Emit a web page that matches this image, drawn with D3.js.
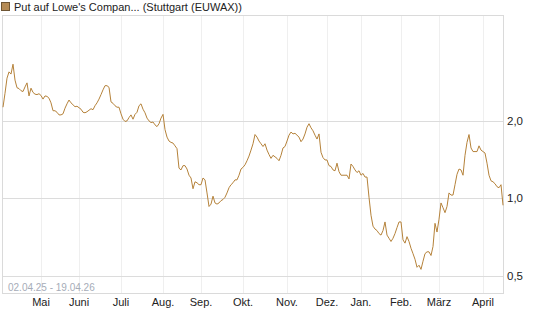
<!DOCTYPE html>
<html>
<head>
<meta charset="utf-8">
<script src="https://cdn.jsdelivr.net/npm/d3@7"></script>
<style>
  body { margin: 0; background: #fff; }
  svg { display: block; font-family: "Liberation Sans", Arial, sans-serif; }
</style>
</head>
<body>
<div id="chart"></div>
<script>
// chart title and date range
var title = "Put auf Lowe's Compan... (Stuttgart (EUWAX))";
var dateRange = "02.04.25 - 19.04.26";

// daily closing prices, one per trading day
var prices = [
  2.26, 2.56, 2.93, 3.10, 3.04, 3.32, 2.88, 2.69, 2.67, 2.62,
  2.60, 2.71, 2.81, 2.50, 2.68, 2.58, 2.54, 2.53, 2.55, 2.51,
  2.43, 2.50, 2.49, 2.45, 2.35, 2.19, 2.19, 2.16, 2.11, 2.11,
  2.13, 2.24, 2.33, 2.41, 2.35, 2.31, 2.27, 2.28, 2.25, 2.22,
  2.16, 2.15, 2.17, 2.20, 2.23, 2.21, 2.29, 2.35, 2.43, 2.53,
  2.64, 2.74, 2.74, 2.70, 2.37, 2.34, 2.29, 2.26, 2.26, 2.13,
  2.03, 1.99, 2.00, 2.06, 2.11, 2.03, 2.12, 2.16, 2.29, 2.33,
  2.22, 2.15, 2.05, 2.00, 1.97, 1.98, 1.93, 1.90, 1.95, 2.05,
  2.12, 1.85, 1.73, 1.67, 1.65, 1.64, 1.60, 1.56, 1.31, 1.29,
  1.34, 1.34, 1.30, 1.23, 1.20, 1.09, 1.16, 1.15, 1.13, 1.13,
  1.20, 1.18, 1.05, 0.93, 0.95, 1.02, 0.96, 0.95, 0.96, 0.98,
  0.99, 1.01, 1.05, 1.10, 1.13, 1.15, 1.18, 1.18, 1.23, 1.30,
  1.32, 1.35, 1.40, 1.46, 1.54, 1.63, 1.77, 1.73, 1.67, 1.63,
  1.59, 1.63, 1.54, 1.48, 1.43, 1.47, 1.45, 1.43, 1.40, 1.47,
  1.57, 1.59, 1.67, 1.76, 1.81, 1.78, 1.79, 1.76, 1.73, 1.66,
  1.70, 1.78, 1.89, 1.95, 1.88, 1.83, 1.76, 1.70, 1.78, 1.51,
  1.44, 1.41, 1.41, 1.34, 1.33, 1.29, 1.28, 1.37, 1.27, 1.23,
  1.23, 1.23, 1.23, 1.19, 1.36, 1.33, 1.29, 1.26, 1.28, 1.23,
  1.25, 1.21, 1.21, 1.01, 0.86, 0.78, 0.76, 0.75, 0.73, 0.72,
  0.75, 0.81, 0.72, 0.70, 0.68, 0.70, 0.73, 0.77, 0.81, 0.81,
  0.69, 0.67, 0.71, 0.68, 0.64, 0.61, 0.58, 0.54, 0.55, 0.53,
  0.57, 0.61, 0.62, 0.62, 0.60, 0.65, 0.80, 0.74, 0.83, 0.96,
  0.92, 0.88, 0.93, 1.05, 1.03, 1.03, 1.13, 1.24, 1.30, 1.29,
  1.23, 1.47, 1.65, 1.77, 1.57, 1.52, 1.52, 1.52, 1.60, 1.54,
  1.52, 1.50, 1.37, 1.23, 1.17, 1.16, 1.14, 1.11, 1.10, 1.13,
  0.94
];

// first trading day of each month (index into prices)
var monthStarts = [19, 38, 59, 80, 99, 120, 142, 162, 179, 199, 218, 240];
var monthLabels = ["Mai", "Juni", "Juli", "Aug.", "Sep.", "Okt.", "Nov.", "Dez.", "Jan.", "Feb.", "März", "April"];

// y axis ticks
var yTicks = [0.5, 1.0, 2.0];
var yDomain = [0.429, 5.11];

// set the dimensions and margins of the graph
var margin = {top: 16, right: 42, bottom: 34, left: 3},
    width = 545 - margin.left - margin.right,
    height = 327 - margin.top - margin.bottom;

var lineColor = "#b5823a";

// set the ranges
var x = d3.scaleLinear().domain([0, prices.length - 1]).range([0, width]);
var y = d3.scaleLog().domain(yDomain).range([height, 0]);

var root = d3.select("#chart").append("svg")
    .attr("width", 545)
    .attr("height", 327);

// legend box and title
root.append("rect")
    .attr("x", 1.5)
    .attr("y", 2.5)
    .attr("width", 8)
    .attr("height", 8)
    .attr("fill", "#b58b55")
    .attr("stroke", "#6e5534");

root.append("text")
    .attr("x", 14)
    .attr("y", 11)
    .attr("font-size", "11px")
    .attr("fill", "#222")
    .text(title);

var svg = root.append("g")
    .attr("transform", "translate(" + margin.left + "," + margin.top + ")");

var px = function (v) { return Math.round(v) + 0.5; };

// vertical grid lines at month starts
svg.selectAll(".vgrid")
    .data(monthStarts)
    .enter().append("line")
    .attr("x1", (d) => px(x(d)))
    .attr("x2", (d) => px(x(d)))
    .attr("y1", 0)
    .attr("y2", height)
    .attr("stroke", "#efefef");

// horizontal grid lines
svg.selectAll(".hgrid")
    .data(yTicks)
    .enter().append("line")
    .attr("x1", 0)
    .attr("x2", width)
    .attr("y1", (d) => px(y(d)))
    .attr("y2", (d) => px(y(d)))
    .attr("stroke", "#dcdcdc");

// plot border
svg.append("rect")
    .attr("x", -0.5)
    .attr("y", -0.5)
    .attr("width", width + 1)
    .attr("height", height + 1)
    .attr("fill", "none")
    .attr("stroke", "#dadada");

// date range text
svg.append("text")
    .attr("x", 5)
    .attr("y", height - 2)
    .attr("font-size", "10px")
    .attr("fill", "#a6acb8")
    .text(dateRange);

// the price line
var line = d3.line()
    .x((d, i) => x(i))
    .y((d) => y(d));

svg.append("path")
    .datum(prices)
    .attr("fill", "none")
    .attr("stroke", lineColor)
    .attr("stroke-width", 1)
    .attr("d", line);

// x axis labels
svg.selectAll(".xlabel")
    .data(monthStarts)
    .enter().append("text")
    .attr("x", (d) => x(d))
    .attr("y", height + 13)
    .attr("text-anchor", "middle")
    .attr("font-size", "11px")
    .attr("fill", "#222")
    .text((d, i) => monthLabels[i]);

// y axis labels on the right
svg.selectAll(".ylabel")
    .data(yTicks)
    .enter().append("text")
    .attr("x", width + 4)
    .attr("y", (d) => y(d) + 4)
    .attr("font-size", "11.5px")
    .attr("fill", "#222")
    .text((d) => d.toFixed(1).replace(".", ","));
</script>
</body>
</html>
